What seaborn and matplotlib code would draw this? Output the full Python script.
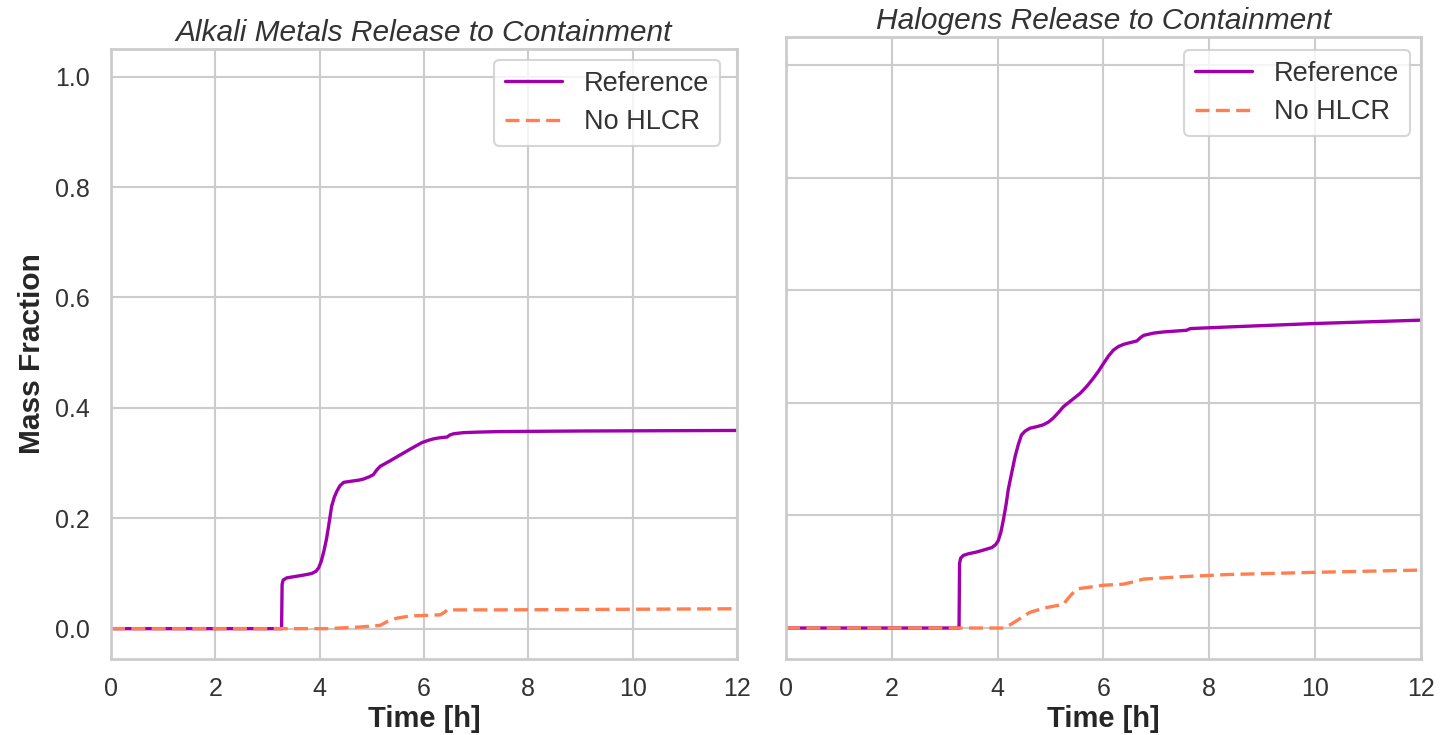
import numpy as np
import pandas as pd
import matplotlib
matplotlib.use("Agg")
import matplotlib.pyplot as plt
import seaborn as sns

# Alkali metals: cumulative mass fraction released to containment
alk_ref_t = [0.0, 3.27, 3.28, 3.30, 3.37, 3.50, 3.63, 3.75, 3.85, 3.93, 3.98, 4.03, 4.08,
             4.13, 4.17, 4.23, 4.28, 4.33, 4.39, 4.46, 4.60, 4.75, 4.84, 4.95, 5.03, 5.09,
             5.16, 5.35, 5.55, 5.75, 5.96, 6.08, 6.19, 6.32, 6.44, 6.50, 6.57, 6.75, 7.02,
             7.47, 9.0, 12.0]
alk_ref_v = [0.0, 0.0, 0.080, 0.088, 0.092, 0.094, 0.096, 0.098, 0.100, 0.104, 0.110, 0.122,
             0.140, 0.162, 0.185, 0.222, 0.238, 0.249, 0.259, 0.265, 0.267, 0.269, 0.271,
             0.275, 0.279, 0.287, 0.294, 0.304, 0.315, 0.326, 0.337, 0.341, 0.344, 0.346,
             0.347, 0.351, 0.353, 0.355, 0.356, 0.357, 0.358, 0.359]
alk_nohlcr_t = [0.0, 4.14, 4.78, 5.16, 5.30, 5.48, 5.74, 6.31, 6.40, 6.44, 7.47, 12.0]
alk_nohlcr_v = [0.0, 0.0, 0.003, 0.006, 0.013, 0.019, 0.023, 0.025, 0.030, 0.034, 0.034, 0.036]

# Halogens: cumulative mass fraction released to containment
hal_ref_t = [0.0, 3.27, 3.28, 3.30, 3.35, 3.45, 3.60, 3.75, 3.89, 3.96, 4.01, 4.06, 4.11,
             4.16, 4.20, 4.27, 4.33, 4.39, 4.45, 4.52, 4.61, 4.75, 4.86, 4.96, 5.05, 5.14,
             5.24, 5.40, 5.56, 5.69, 5.81, 5.91, 6.00, 6.10, 6.19, 6.28, 6.38, 6.50, 6.63,
             6.70, 6.76, 6.95, 7.13, 7.57, 7.64, 8.39, 10.0, 12.0]
hal_ref_v = [0.0, 0.0, 0.115, 0.124, 0.129, 0.132, 0.135, 0.139, 0.143, 0.148, 0.155, 0.170,
             0.193, 0.220, 0.246, 0.278, 0.305, 0.326, 0.343, 0.350, 0.355, 0.358, 0.361,
             0.366, 0.373, 0.382, 0.393, 0.405, 0.417, 0.430, 0.444, 0.457, 0.470, 0.484,
             0.494, 0.500, 0.504, 0.507, 0.510, 0.516, 0.520, 0.524, 0.526, 0.529, 0.532,
             0.535, 0.541, 0.547]
hal_nohlcr_t = [0.0, 4.11, 4.22, 4.36, 4.61, 4.90, 5.24, 5.30, 5.37, 5.45, 5.53, 6.00,
                6.38, 6.60, 6.76, 7.45, 8.33, 10.0, 12.0]
hal_nohlcr_v = [0.0, 0.0, 0.005, 0.013, 0.028, 0.036, 0.042, 0.049, 0.057, 0.065, 0.070,
                0.076, 0.078, 0.083, 0.087, 0.091, 0.095, 0.099, 0.103]

series_names = ["Reference", "No HLCR"]
panel_titles = ["Alkali Metals Release to Containment", "Halogens Release to Containment"]
x_ticks = [0, 2, 4, 6, 8, 10, 12]
y_ticks = [0.0, 0.2, 0.4, 0.6, 0.8, 1.0]

sns.set_theme(style="whitegrid", context="talk")
plt.rcParams["font.family"] = ["Liberation Sans", "DejaVu Sans"]
plt.rcParams["text.color"] = "0.2"
plt.rcParams["axes.labelcolor"] = "0.15"
plt.rcParams["xtick.color"] = "0.2"
plt.rcParams["ytick.color"] = "0.2"

palette = {"Reference": "#A000AC", "No HLCR": "#FF7F50"}


def make_frame(ref_t, ref_v, no_t, no_v):
    a = pd.DataFrame({"Time": ref_t, "Fraction": ref_v, "Case": series_names[0]})
    b = pd.DataFrame({"Time": no_t, "Fraction": no_v, "Case": series_names[1]})
    return pd.concat([a, b], ignore_index=True)


frames = [
    make_frame(alk_ref_t, alk_ref_v, alk_nohlcr_t, alk_nohlcr_v),
    make_frame(hal_ref_t, hal_ref_v, hal_nohlcr_t, hal_nohlcr_v),
]

W, H = 1449, 735
fig = plt.figure(figsize=(W / 100, H / 100), dpi=100)
# panel boxes in pixels: left, bottom, right, top (measured from the top edge)
boxes = [(111, 659, 737, 49), (786, 659, 1421, 37)]
legend_corners = [(720, 60), (1410, 50)]
axes = []
for (l, b, r, t) in boxes:
    axes.append(fig.add_axes([l / W, 1 - b / H, (r - l) / W, (b - t) / H]))

for i, (ax, df) in enumerate(zip(axes, frames)):
    sns.lineplot(data=df, x="Time", y="Fraction", hue="Case", style="Case",
                 palette=palette, dashes={"Reference": "", "No HLCR": (4.2, 1.9)},
                 linewidth=2.4, ax=ax, estimator=None, sort=False)
    ax.set_xlim(0, 12)
    ax.set_ylim(-0.055, 1.05)
    ax.set_xticks(x_ticks)
    ax.set_yticks(y_ticks)
    ax.tick_params(axis="x", labelsize=18, pad=4)
    ax.tick_params(axis="y", labelsize=18, pad=6)
    ax.set_title(panel_titles[i], fontsize=21.5, style="italic", pad=6)
    ax.set_xlabel("Time [h]", fontsize=21, fontweight="bold", labelpad=3)
    if i == 0:
        ax.set_ylabel("Mass Fraction", fontsize=21.5, fontweight="bold", labelpad=7)
    else:
        ax.set_ylabel("")
        ax.set_yticklabels([])
    l, b, r, t = boxes[i]
    cx, cy = legend_corners[i]
    ax.legend(loc="upper right", fontsize=19.5, title=None, handlelength=2.1,
              handletextpad=0.8, borderpad=0.4, labelspacing=0.45, borderaxespad=0,
              bbox_to_anchor=((cx - l) / (r - l), (b - cy) / (b - t)))
    for sp in ax.spines.values():
        sp.set_color("0.8")
        sp.set_linewidth(2)
    ax.grid(color="0.8", linewidth=1.5)

fig.savefig("out.png", dpi=100)
